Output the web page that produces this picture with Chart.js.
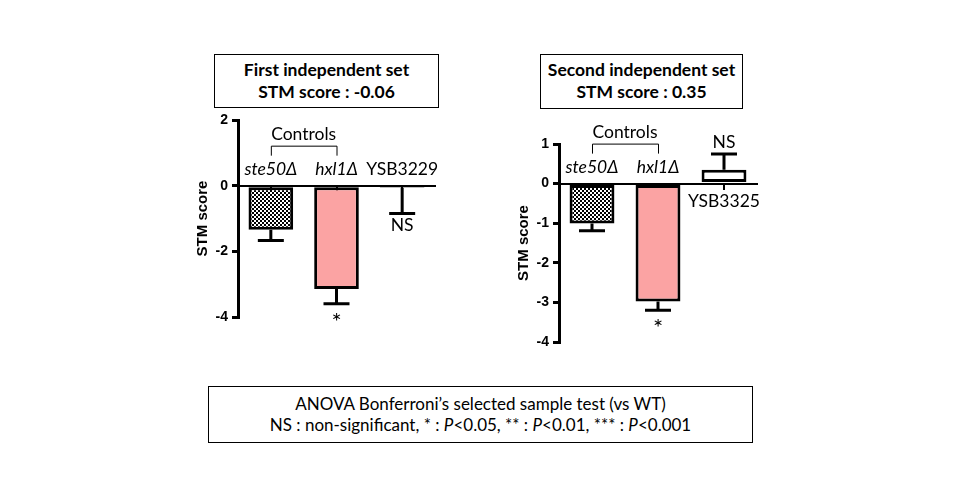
<!DOCTYPE html>
<html>
<head>
<meta charset="utf-8">
<script src="https://cdn.jsdelivr.net/npm/chart.js@4.4.1/dist/chart.umd.min.js"></script>
<style>
  body { margin: 0; background: #fff; width: 960px; height: 500px; position: relative; overflow: hidden; font-family: Lato, sans-serif; color: #000; }
  .box { position: absolute; border: 1px solid #000; box-sizing: border-box; text-align: center; }
  .title { font-weight: bold; font-size: 17.5px; line-height: 22px; padding-top: 4px; }
  .note { font-size: 17px; line-height: 21px; padding-top: 6px; }
  .chart { position: absolute; }
</style>
</head>
<body>
<div class="box title" style="left:214px;top:54px;width:225px;height:54px;">First independent set<br>STM score : -0.06</div>
<div class="box title" style="left:540px;top:54px;width:203px;height:55px;">Second independent set<br>STM score : 0.35</div>
<div class="box note" style="left:208px;top:386px;width:545px;height:57px;">ANOVA Bonferroni’s selected sample test (vs WT)<br>NS : non-significant, * : <i>P</i>&lt;0.05, ** : <i>P</i>&lt;0.01, *** : <i>P</i>&lt;0.001</div>

<div class="chart" style="left:180px;top:100px;width:270px;height:240px;"><canvas id="chart1"></canvas></div>
<div class="chart" style="left:500px;top:100px;width:275px;height:260px;"><canvas id="chart2"></canvas></div>

<script>
// =============== DATA ===============

// first independent set
const categories1 = ["ste50Δ", "hxl1Δ", "YSB3229"];
const means1 = [-1.34, -3.15, -0.06];
const errors1 = [0.33, 0.45, 0.79];
const signif1 = ["", "*", "NS"];
const yTicks1 = [-4, -2, 0, 2];

// second independent set
const categories2 = ["ste50Δ", "hxl1Δ", "YSB3325"];
const means2 = [-1.01, -2.98, 0.35];
const errors2 = [0.18, 0.22, 0.40];
const signif2 = ["", "*", "NS"];
const yTicks2 = [-4, -3, -2, -1, 0, 1];

// which category names are gene deletions (italic), and the control group
const italicLabels = [true, true, false];
const controlsLabel = "Controls";


// =============== HELPERS ===============

function checkerPattern() {
  const c = document.createElement("canvas");
  c.width = 4;
  c.height = 4;
  const g = c.getContext("2d");
  g.fillStyle = "#fff";
  g.fillRect(0, 0, 4, 4);
  g.fillStyle = "#000";
  g.fillRect(0, 0, 2, 2);
  g.fillRect(2, 2, 2, 2);
  return g.createPattern(c, "repeat");
}

// error bars, category names, significance marks and the "Controls" bracket
const annotatePlugin = {
  id: "annotate",
  afterDatasetsDraw(chart, args, opts) {
    const { ctx } = chart;
    const y = chart.scales.y;
    const meta = chart.getDatasetMeta(0);
    const zero = y.getPixelForValue(0);

    ctx.save();
    ctx.strokeStyle = "#000";
    ctx.fillStyle = "#000";
    ctx.textAlign = "center";
    ctx.textBaseline = "middle";

    opts.means.forEach((m, i) => {
      const bar = meta.data[i];
      const cx = bar.x;
      const dir = m < 0 ? -1 : 1;
      const yEnd = y.getPixelForValue(m + dir * opts.errors[i]);

      ctx.lineWidth = 3;
      ctx.beginPath();
      ctx.moveTo(cx, bar.y);
      ctx.lineTo(cx, yEnd);
      ctx.moveTo(cx - 13, yEnd);
      ctx.lineTo(cx + 13, yEnd);
      ctx.stroke();

      // name on the other side of the axis
      ctx.font = (italicLabels[i] ? "italic " : "") + "17.5px Lato";
      ctx.fillText(opts.labels[i], cx, m < 0 ? zero - 16 : zero + 18);

      // significance beyond the error bar
      const s = opts.signif[i];
      if (s) {
        ctx.font = s === "*" ? "24px Lato" : "17.5px Lato";
        ctx.fillText(s, cx, yEnd - dir * (s === "*" ? 18 : 12));
      }
    });

    // Controls bracket over the two deletion strains
    const x0 = meta.data[0].x;
    const x1 = meta.data[1].x;
    ctx.lineWidth = 1;
    ctx.beginPath();
    ctx.moveTo(x0 + 0.5, zero - 30);
    ctx.lineTo(x0 + 0.5, zero - 40 + 0.5);
    ctx.lineTo(x1 + 0.5, zero - 40 + 0.5);
    ctx.lineTo(x1 + 0.5, zero - 30);
    ctx.stroke();
    ctx.font = "17.5px Lato";
    ctx.fillText(controlsLabel, (x0 + x1) / 2, zero - 51);

    ctx.restore();
  },
};

function makeChart(id, labels, means, errors, signif, yTicks, padding) {
  const ctx = document.getElementById(id);
  return new Chart(ctx, {
    type: "bar",
    data: {
      labels,
      datasets: [
        {
          data: means,
          backgroundColor: [checkerPattern(), "#FBA3A3", "#FFFFFF"],
          borderColor: "#000",
          borderWidth: 3,
          borderSkipped: false,
          barPercentage: 0.68,
          categoryPercentage: 1,
        },
      ],
    },
    options: {
      responsive: true,
      maintainAspectRatio: false,
      animation: false,
      layout: { padding },
      plugins: {
        legend: { display: false },
        tooltip: { enabled: false },
        annotate: { means, errors, signif, labels },
      },
      scales: {
        x: {
          position: { y: 0 },
          z: 1,
          offset: true,
          ticks: { display: false },
          grid: { offset: false, drawOnChartArea: false, tickLength: 5, color: "#000", lineWidth: 2 },
          border: { display: true, color: "#000", width: 2 },
        },
        y: {
          min: Math.min(...yTicks),
          max: Math.max(...yTicks),
          afterBuildTicks: (s) => { s.ticks = yTicks.map((v) => ({ value: v })); },
          afterFit: (s) => { s.width = 48; },
          ticks: {
            color: "#000",
            padding: 4,
            font: { family: "Liberation Sans", weight: "bold", size: 14 },
          },
          grid: { drawOnChartArea: false, tickLength: 6, color: "#000", lineWidth: 3 },
          border: { display: true, color: "#000", width: 3 },
          title: {
            display: true,
            text: "STM score",
            color: "#000",
            font: { family: "Liberation Sans", weight: "bold", size: 15 },
          },
        },
      },
    },
    plugins: [annotatePlugin],
  });
}


// =============== INIT ===============

makeChart("chart1", categories1, means1, errors1, signif1, yTicks1,
  { left: 10, top: 20, right: 15, bottom: 23 });
makeChart("chart2", categories2, means2, errors2, signif2, yTicks2,
  { left: 11, top: 44, right: 18, bottom: 18 });
</script>
</body>
</html>
